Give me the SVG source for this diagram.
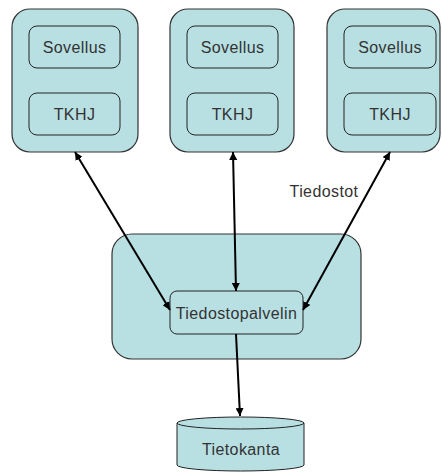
<svg xmlns="http://www.w3.org/2000/svg" width="442" height="473" viewBox="0 0 442 473">
<defs>
<marker id="ah" viewBox="0 0 10 10" refX="10" refY="5" markerWidth="8" markerHeight="8" orient="auto-start-reverse" markerUnits="userSpaceOnUse">
<path d="M0,0 L10,5 L0,10 z" fill="#000"/>
</marker>
<style>
.box{fill:#b8e0e3;stroke:#333;stroke-width:1.2}
.in{fill:#b8e0e3;stroke:#222;stroke-width:1}
.t{font-family:"Liberation Sans",Arial,sans-serif;font-size:16px;letter-spacing:0.4px;fill:#333;text-anchor:middle}
.c{stroke:#000;stroke-width:2;fill:none}
</style>
</defs>
<rect width="442" height="473" fill="#fff"/>
<g id="client1">
<rect class="box" x="12" y="9" width="126" height="143" rx="18"/>
<rect class="in" x="29" y="26" width="91" height="42" rx="8"/>
<text class="t" x="74.5" y="53">Sovellus</text>
<rect class="in" x="29" y="93" width="91" height="42" rx="8"/>
<text class="t" x="74.5" y="120">TKHJ</text>
</g>
<g id="client2">
<rect class="box" x="170" y="9" width="124" height="143" rx="18"/>
<rect class="in" x="187" y="26" width="91" height="42" rx="8"/>
<text class="t" x="232.5" y="53">Sovellus</text>
<rect class="in" x="187" y="93" width="91" height="42" rx="8"/>
<text class="t" x="232.5" y="120">TKHJ</text>
</g>
<g id="client3">
<rect class="box" x="327" y="9" width="113" height="143" rx="18"/>
<rect class="in" x="344" y="26" width="92" height="42" rx="8"/>
<text class="t" x="390" y="53">Sovellus</text>
<rect class="in" x="344" y="93" width="92" height="42" rx="8"/>
<text class="t" x="390" y="120">TKHJ</text>
</g>
<g id="server">
<rect class="box" x="112" y="234" width="249" height="125" rx="20"/>
<rect class="in" x="170" y="291" width="133" height="43" rx="7"/>
<text class="t" x="236.5" y="319">Tiedostopalvelin</text>
</g>
<g id="db">
<path class="in" d="M177,423 L177,465 A63.5,6 0 0 0 304,465 L304,423"/>
<ellipse class="in" cx="240.5" cy="423" rx="63.5" ry="6"/>
<text class="t" x="241" y="455">Tietokanta</text>
</g>
<g id="connectors">
<line class="c" x1="75" y1="152" x2="170" y2="310" marker-start="url(#ah)" marker-end="url(#ah)"/>
<line class="c" x1="233" y1="152" x2="236" y2="291" marker-start="url(#ah)" marker-end="url(#ah)"/>
<line class="c" x1="390" y1="152" x2="303" y2="310" marker-start="url(#ah)" marker-end="url(#ah)"/>
<line class="c" x1="236" y1="334" x2="240" y2="416" marker-end="url(#ah)"/>
<text class="t" x="324" y="197">Tiedostot</text>
</g>
</svg>
